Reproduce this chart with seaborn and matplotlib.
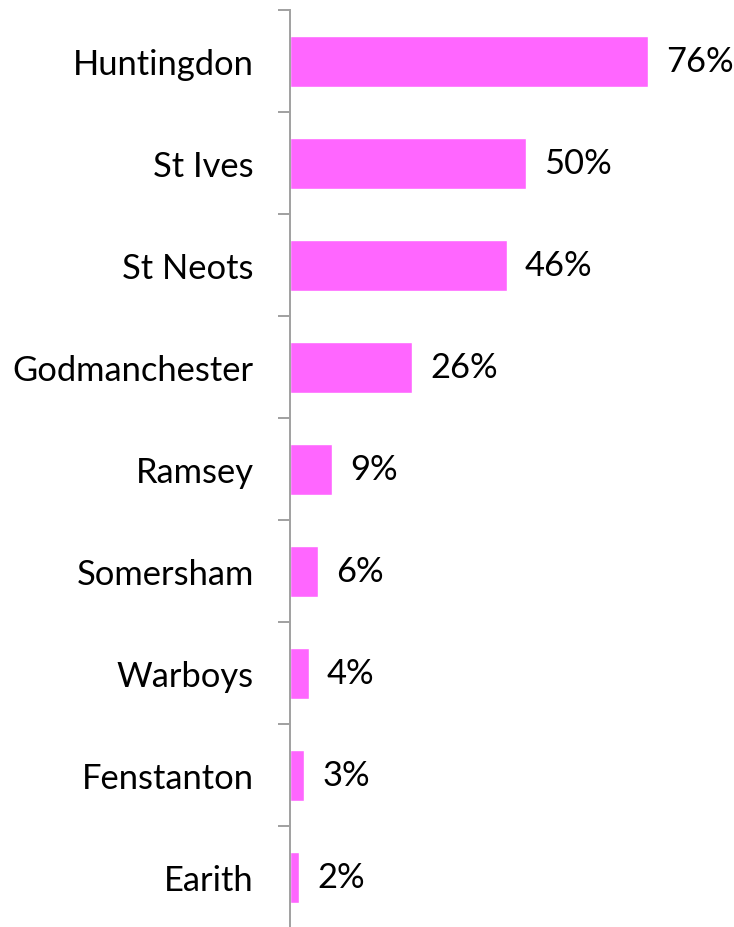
import numpy as np
import pandas as pd
import matplotlib
matplotlib.use("Agg")
import matplotlib.pyplot as plt
import seaborn as sns

towns = ["Huntingdon", "St Ives", "St Neots", "Godmanchester", "Ramsey",
         "Somersham", "Warboys", "Fenstanton", "Earith"]
pct = [76, 50, 46, 26, 9, 6, 4, 3, 2]

df = pd.DataFrame({"town": towns, "pct": pct})

sns.set_style("white")
plt.rcParams['font.family'] = ['Lato', 'DejaVu Sans']
plt.rcParams['text.color'] = 'black'
plt.rcParams['ytick.color'] = 'black'
plt.rcParams['ytick.labelcolor'] = 'black'

fig = plt.figure(figsize=(7.34, 9.28), dpi=100)
ax = fig.add_axes([290 / 734, -1 / 928, 1 - 290 / 734, 918 / 928])

sns.barplot(data=df, x="pct", y="town", orient="h", color="#FF66FF",
            saturation=1, width=0.5, ax=ax)

ax.set_xlim(0, 444 / 4.71)
ax.set_ylim(len(towns) - 0.5, -0.5)
for s in ["top", "right", "bottom"]:
    ax.spines[s].set_visible(False)
ax.spines["left"].set_color("#A0A0A0")
ax.spines["left"].set_linewidth(1.4)
ax.set_xticks([])
ax.set_xlabel("")
ax.set_ylabel("")

# labels at category centres, small ticks at the boundaries
ax.set_yticks(np.arange(len(towns)))
ax.set_yticklabels(towns, fontsize=24.8, color="black")
ax.tick_params(axis="y", which="major", left=True, length=0, pad=26)
ax.set_yticks(np.arange(len(towns) + 1) - 0.5, minor=True)
ax.tick_params(axis="y", which="minor", left=True, length=8.6, width=1.4,
               color="#A0A0A0", direction="out")

ax.bar_label(ax.containers[0], labels=[f"{v}%" for v in pct],
             padding=13, fontsize=24.8, color="black")

fig.savefig("out.png", dpi=100)
